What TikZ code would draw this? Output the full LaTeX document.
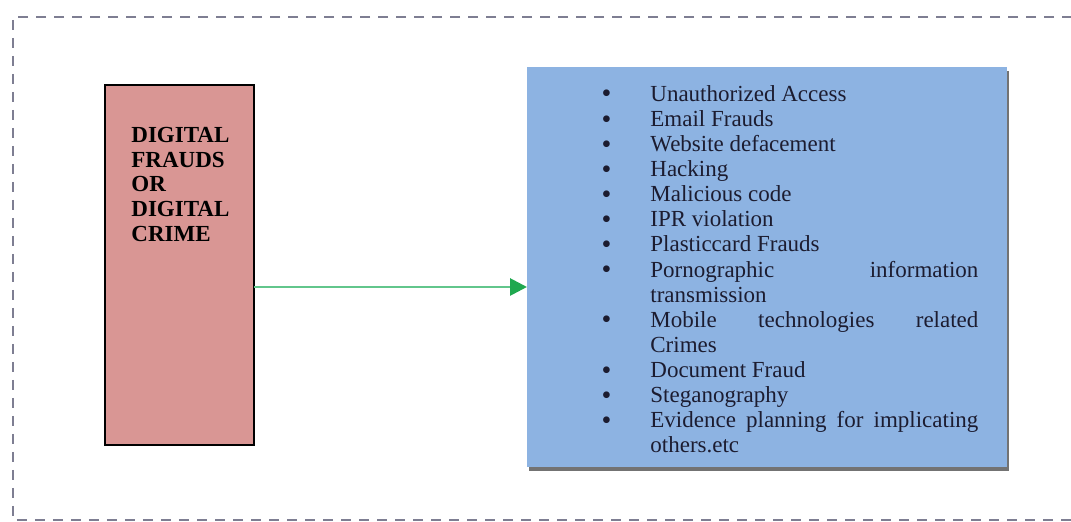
\documentclass[tikz,border=0pt]{standalone}
\usepackage{fontspec}
\setmainfont{Liberation Serif}
\usetikzlibrary{arrows.meta,shadows}
\definecolor{redfill}{HTML}{D99694}
\definecolor{bluefill}{HTML}{8DB3E2}
\definecolor{framegray}{HTML}{7E7E92}
\definecolor{arrowgreen}{HTML}{1FA84F}
\definecolor{linegreen}{HTML}{62C68C}
\definecolor{textnavy}{HTML}{1C1C30}
\newcommand{\bl}{\makebox[25pt][l]{\hspace{0.6pt}\raisebox{-0.8pt}{\fontsize{14}{12}\selectfont\textbullet}}}
\newcommand{\ind}{\hspace*{25pt}}
\newcommand{\js}[1]{\makebox[164pt][s]{#1}}
\tikzset{
  frameline/.style={draw=framegray, line width=1.2pt, dash pattern=on 5pt off 4pt},
  crimebox/.style={draw=black, line width=1.25pt, fill=redfill, minimum width=74.5pt, minimum height=180pt, inner sep=0pt, outer sep=0pt, anchor=north west},
  crimetext/.style={inner sep=0pt, anchor=north west, align=left, font=\fontsize{11.5}{12.3}\selectfont\bfseries},
  listbox/.style={fill=bluefill, minimum width=240pt, minimum height=200pt, inner sep=0pt, outer sep=0pt, anchor=north west,
    drop shadow={shadow xshift=1.2pt, shadow yshift=-2pt, fill=black!55, opacity=1}},
  listtext/.style={inner sep=0pt, anchor=north west, align=left, text=textnavy, font=\fontsize{11.5}{12.55}\selectfont},
  flowarrow/.style={draw=linegreen, line width=1.4pt, -{Triangle[length=8.5pt,width=8.5pt,fill=arrowgreen,color=arrowgreen]}}
}
\begin{document}
\begin{tikzpicture}[x=0.5pt,y=-0.5pt]
\useasboundingbox (0,0) rectangle (1071,522);
\draw[frameline] (1090,17) -- (13,17) -- (13,520) -- (1090,520);
\node[crimebox] (crime) at (105,85) {};
\node[crimetext] (crimelabel) at (131,127) {DIGITAL\\FRAUDS\\OR\\DIGITAL\\CRIME};
\node[listbox] (list) at (527,67) {};
\node[listtext] (items) at (600,85) {%
\bl Unauthorized Access\\
\bl Email Frauds\\
\bl Website defacement\\
\bl Hacking\\
\bl Malicious code\\
\bl IPR violation\\
\bl Plasticcard Frauds\\
\bl \js{Pornographic information}\\
\ind transmission\\
\bl \js{Mobile technologies related}\\
\ind Crimes\\
\bl Document Fraud\\
\bl Steganography\\
\bl \js{Evidence planning for implicating}\\
\ind others.etc};
\draw[flowarrow] ([yshift=-11pt]crime.east) -- ([yshift=-11pt]crime.east -| list.west);
\end{tikzpicture}
\end{document}
